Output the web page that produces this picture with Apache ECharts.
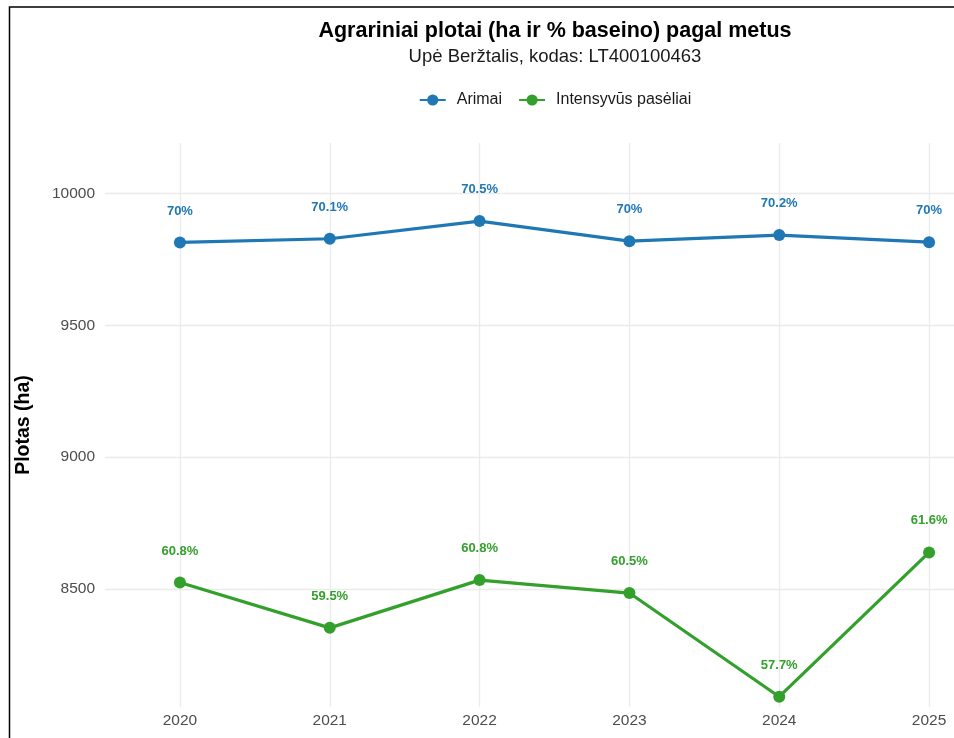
<!DOCTYPE html>
<html>
<head>
<meta charset="utf-8">
<script src="https://cdn.jsdelivr.net/npm/echarts@6/dist/echarts.min.js"></script>
<style>
  html, body { margin: 0; padding: 0; overflow: hidden; background: #fff; }
  #chart { width: 1110px; height: 738px; }
</style>
</head>
<body>
<div id="chart"></div>
<script>
const years = ['2020', '2021', '2022', '2023', '2024', '2025']
const arimai = [9814, 9828, 9895, 9819, 9842, 9815]
const arimaiPct = ['70%', '70.1%', '70.5%', '70%', '70.2%', '70%']
const intensyvus = [8525, 8353, 8534, 8485, 8092, 8639]
const intensyvusPct = ['60.8%', '59.5%', '60.8%', '60.5%', '57.7%', '61.6%']

const font = '"Liberation Sans", Arial, sans-serif'
const blue = '#1f78b4'
const green = '#33a02c'

const chart = echarts.init(document.getElementById('chart'))

const makeSeries = (name, values, pct, color, extra) => Object.assign({
  name,
  type: 'line',
  data: values,
  symbol: 'circle',
  symbolSize: 12,
  lineStyle: { color, width: 3.2 },
  itemStyle: { color },
  label: {
    show: true,
    position: 'top',
    distance: 19,
    fontFamily: font,
    fontSize: 13,
    fontWeight: 'bold',
    color,
    formatter: p => pct[p.dataIndex]
  },
  emphasis: { disabled: true },
  z: 3
}, extra)

chart.setOption({
  backgroundColor: '#fff',
  animation: false,
  textStyle: { fontFamily: font },
  graphic: [{
    type: 'rect',
    shape: { x: 9.5, y: 7, width: 1200, height: 900 },
    style: { fill: null, stroke: '#000', lineWidth: 1.5 },
    silent: true
  }],
  title: {
    left: 'center',
    top: 15,
    text: 'Agrariniai plotai (ha ir % baseino) pagal metus',
    subtext: 'Upė Beržtalis, kodas: LT400100463',
    itemGap: 5,
    textStyle: { fontFamily: font, fontSize: 21.5, fontWeight: 'bold', color: '#000' },
    subtextStyle: { fontFamily: font, fontSize: 18.5, color: '#1a1a1a' }
  },
  legend: {
    top: 87,
    left: 'center',
    data: ['Arimai', 'Intensyvūs pasėliai'],
    itemWidth: 26,
    itemHeight: 14,
    itemGap: 16,
    textStyle: { fontFamily: font, fontSize: 16, color: '#1a1a1a', padding: [0, 0, 0, 6] }
  },
  grid: { left: 105, right: 106, top: 143, bottom: 31, containLabel: false },
  xAxis: {
    type: 'category',
    data: years,
    boundaryGap: true,
    axisLine: { show: false },
    axisTick: { show: false },
    splitLine: { show: false },
    axisLabel: { fontFamily: font, fontSize: 15.5, color: '#4d4d4d', margin: 6 }
  },
  yAxis: {
    type: 'value',
    name: 'Plotas (ha)',
    nameLocation: 'middle',
    nameGap: 71,
    nameRotate: 90,
    nameTextStyle: { fontFamily: font, fontSize: 19.5, fontWeight: 'bold', color: '#000' },
    min: 8053,
    max: 10191,
    splitNumber: 5,
    axisLine: { show: false },
    axisTick: { show: false },
    axisLabel: {
      fontFamily: font, fontSize: 15.5, color: '#4d4d4d', margin: 10,
      showMinLabel: false, showMaxLabel: false,
      formatter: v => String(v)
    },
    splitLine: {
      show: true,
      showMinLine: false,
      showMaxLine: false,
      lineStyle: { color: '#ebebeb', width: 1.3 }
    }
  },
  series: [
    makeSeries('Arimai', arimai, arimaiPct, blue, {
      // vertical grid lines at each year
      markLine: {
        silent: true,
        symbol: 'none',
        z: 1,
        label: { show: false },
        lineStyle: { color: '#ebebeb', type: 'solid', width: 1.3 },
        emphasis: { disabled: true },
        data: years.map(y => ({ xAxis: y }))
      }
    }),
    makeSeries('Intensyvūs pasėliai', intensyvus, intensyvusPct, green)
  ]
})
</script>
</body>
</html>
